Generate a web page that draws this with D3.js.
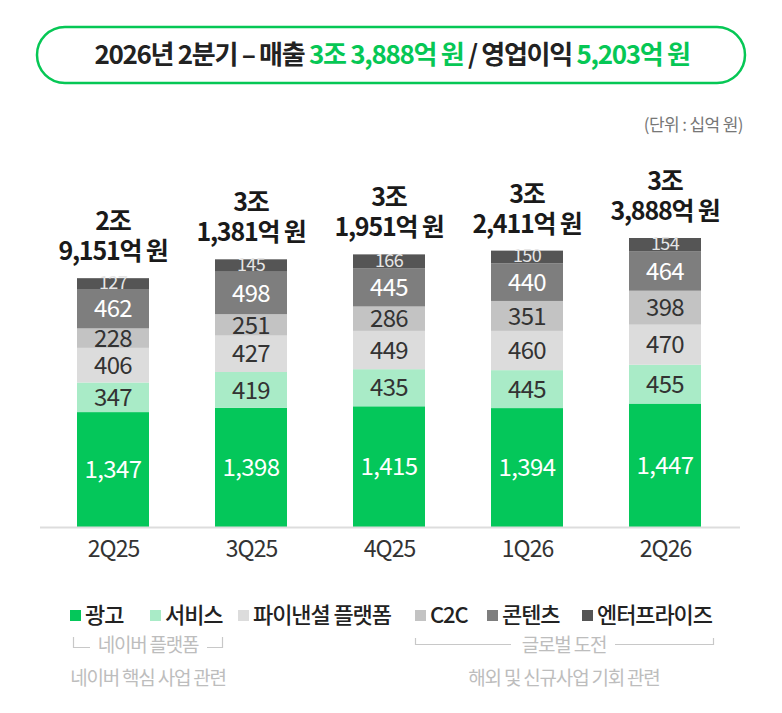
<!DOCTYPE html>
<html>
<head>
<meta charset="utf-8">
<script src="https://cdn.jsdelivr.net/npm/d3@7"></script>
<style>
    body { margin: 0; background: #fff; }
    svg { display: block; font-family: "Noto Sans CJK KR", "Noto Sans", sans-serif; }
</style>
</head>
<body>
<svg id="chart" width="782" height="713"></svg>
<script>
var quarters = ['2Q25', '3Q25', '4Q25', '1Q26', '2Q26'];
var seriesNames = ['광고', '서비스', '파이낸셜 플랫폼', 'C2C', '콘텐츠', '엔터프라이즈'];
var ads = [1347, 1398, 1415, 1394, 1447];
var service = [347, 419, 435, 445, 455];
var finance = [406, 427, 449, 460, 470];
var c2c = [228, 251, 286, 351, 398];
var contents = [462, 498, 445, 440, 464];
var enterprise = [127, 145, 166, 150, 154];
var totalTop = ['2조', '3조', '3조', '3조', '3조'];
var totalBottom = ['9,151억 원', '1,381억 원', '1,951억 원', '2,411억 원', '3,888억 원'];

var colors = ['#04c75a', '#a9ebc7', '#dcdcdc', '#c3c3c3', '#7e7e7e', '#555555'];
var labelColors = ['#ffffff', '#333333', '#333333', '#333333', '#ffffff', '#e6e6e6'];

var svg = d3.select('#chart');

// header pill
svg.append('rect')
    .attr('x', 37).attr('y', 27)
    .attr('width', 708).attr('height', 56)
    .attr('rx', 28)
    .attr('fill', '#fff')
    .attr('stroke', '#06c755')
    .attr('stroke-width', 2.5);

var head = svg.append('text')
    .attr('x', 392).attr('y', 64)
    .attr('text-anchor', 'middle')
    .attr('font-size', 26)
    .attr('font-weight', 700)
    .attr('letter-spacing', -1.3);

[['2026년 2분기 – 매출 ', '#222'], ['3조 3,888억 원', '#06c755'],
 [' / 영업이익 ', '#222'], ['5,203억 원', '#06c755']].forEach(function(p) {
    head.append('tspan').attr('fill', p[1]).text(p[0]);
});

svg.append('text')
    .attr('x', 743).attr('y', 131)
    .attr('text-anchor', 'end')
    .attr('font-size', 17)
    .attr('fill', '#777')
    .attr('letter-spacing', -0.6)
    .text('(단위 : 십억 원)');

var rows = quarters.map(function(q, i) {
    return { q: q, '광고': ads[i], '서비스': service[i], '파이낸셜 플랫폼': finance[i],
        'C2C': c2c[i], '콘텐츠': contents[i], '엔터프라이즈': enterprise[i] };
});

var stack = d3.stack().keys(seriesNames)(rows);

var x = d3.scalePoint().domain(quarters).range([113, 665]);
var y = d3.scaleLinear().domain([0, 3388]).range([527, 238]);
var barW = 72;

var layer = svg.selectAll('.layer')
    .data(stack)
    .enter()
    .append('g')
    .attr('class', 'layer')
    .attr('fill', function(d, k) { return colors[k]; });

layer.selectAll('rect')
    .data(function(d) { return d; })
    .enter()
    .append('rect')
    .attr('x', function(d) { return x(d.data.q) - barW / 2; })
    .attr('y', function(d) { return y(d[1]); })
    .attr('width', barW)
    .attr('height', function(d) { return y(d[0]) - y(d[1]); });

layer.each(function(s, k) {
    d3.select(this).selectAll('text')
        .data(s)
        .enter()
        .append('text')
        .attr('x', function(d) { return x(d.data.q); })
        .attr('y', function(d) { return (y(d[0]) + y(d[1])) / 2; })
        .attr('dy', k === 5 ? '0.3em' : '0.36em')
        .attr('text-anchor', 'middle')
        .attr('font-size', k === 5 ? 18 : 24)
        .attr('fill', labelColors[k])
        .attr('letter-spacing', -0.6)
        .text(function(d) { return d3.format(',')(d[1] - d[0]); });
});

// totals above bars
var tops = stack[stack.length - 1];
svg.selectAll('.total')
    .data(tops)
    .enter()
    .append('text')
    .attr('class', 'total')
    .attr('x', function(d) { return x(d.data.q); })
    .attr('y', function(d) { return y(d[1]) - 48; })
    .attr('text-anchor', 'middle')
    .attr('font-size', 25)
    .attr('font-weight', 700)
    .attr('fill', '#1a1a1a')
    .attr('letter-spacing', -1.2)
    .each(function(d, i) {
        var t = d3.select(this);
        t.append('tspan').attr('x', x(d.data.q)).text(totalTop[i]);
        t.append('tspan').attr('x', x(d.data.q)).attr('dy', 30).text(totalBottom[i]);
    });

// baseline + axis
svg.append('line')
    .attr('x1', 40).attr('x2', 740)
    .attr('y1', 527.5).attr('y2', 527.5)
    .attr('stroke', '#dddddd')
    .attr('stroke-width', 2);

var axis = svg.append('g')
    .attr('transform', 'translate(0,528)')
    .call(d3.axisBottom(x).tickSize(0).tickPadding(13));
axis.select('.domain').remove();
axis.selectAll('text')
    .attr('font-size', 23)
    .attr('font-family', '"Noto Sans CJK KR", sans-serif')
    .attr('fill', '#333')
    .attr('letter-spacing', -1);

// legend
var legendX = [70, 150, 238, 415, 487, 582];
var legend = svg.selectAll('.legend')
    .data(seriesNames)
    .enter()
    .append('g')
    .attr('class', 'legend')
    .attr('transform', function(d, i) { return 'translate(' + legendX[i] + ',611)'; });

legend.append('rect')
    .attr('y', -1)
    .attr('width', 11).attr('height', 11)
    .attr('fill', function(d, i) { return colors[i]; });

legend.append('text')
    .attr('x', 15)
    .attr('y', 4)
    .attr('dy', '0.36em')
    .attr('font-size', 22)
    .attr('font-weight', 500)
    .attr('fill', '#222')
    .attr('letter-spacing', -1.1)
    .text(function(d) { return d; });

// group brackets
var grey = '#c8c8c8';
svg.append('path')
    .attr('d', 'M73.5,637V647.5H90 M207,647.5H222.5V637')
    .attr('fill', 'none').attr('stroke', grey).attr('stroke-width', 1.2);
svg.append('path')
    .attr('d', 'M415.5,638V644.5H511 M615,644.5H713.5V638')
    .attr('fill', 'none').attr('stroke', grey).attr('stroke-width', 1.2);

var notes = [
    { x: 148, y: 645, text: '네이버 플랫폼' },
    { x: 148, y: 678, text: '네이버 핵심 사업 관련' },
    { x: 564, y: 645, text: '글로벌 도전' },
    { x: 564, y: 678, text: '해외 및 신규사업 기회 관련' }
];
svg.selectAll('.note')
    .data(notes)
    .enter()
    .append('text')
    .attr('class', 'note')
    .attr('x', function(d) { return d.x; })
    .attr('y', function(d) { return d.y; })
    .attr('dy', '0.36em')
    .attr('text-anchor', 'middle')
    .attr('font-size', 19)
    .attr('fill', '#bdbdbd')
    .attr('letter-spacing', -1.2)
    .text(function(d) { return d.text; });
</script>
</body>
</html>
